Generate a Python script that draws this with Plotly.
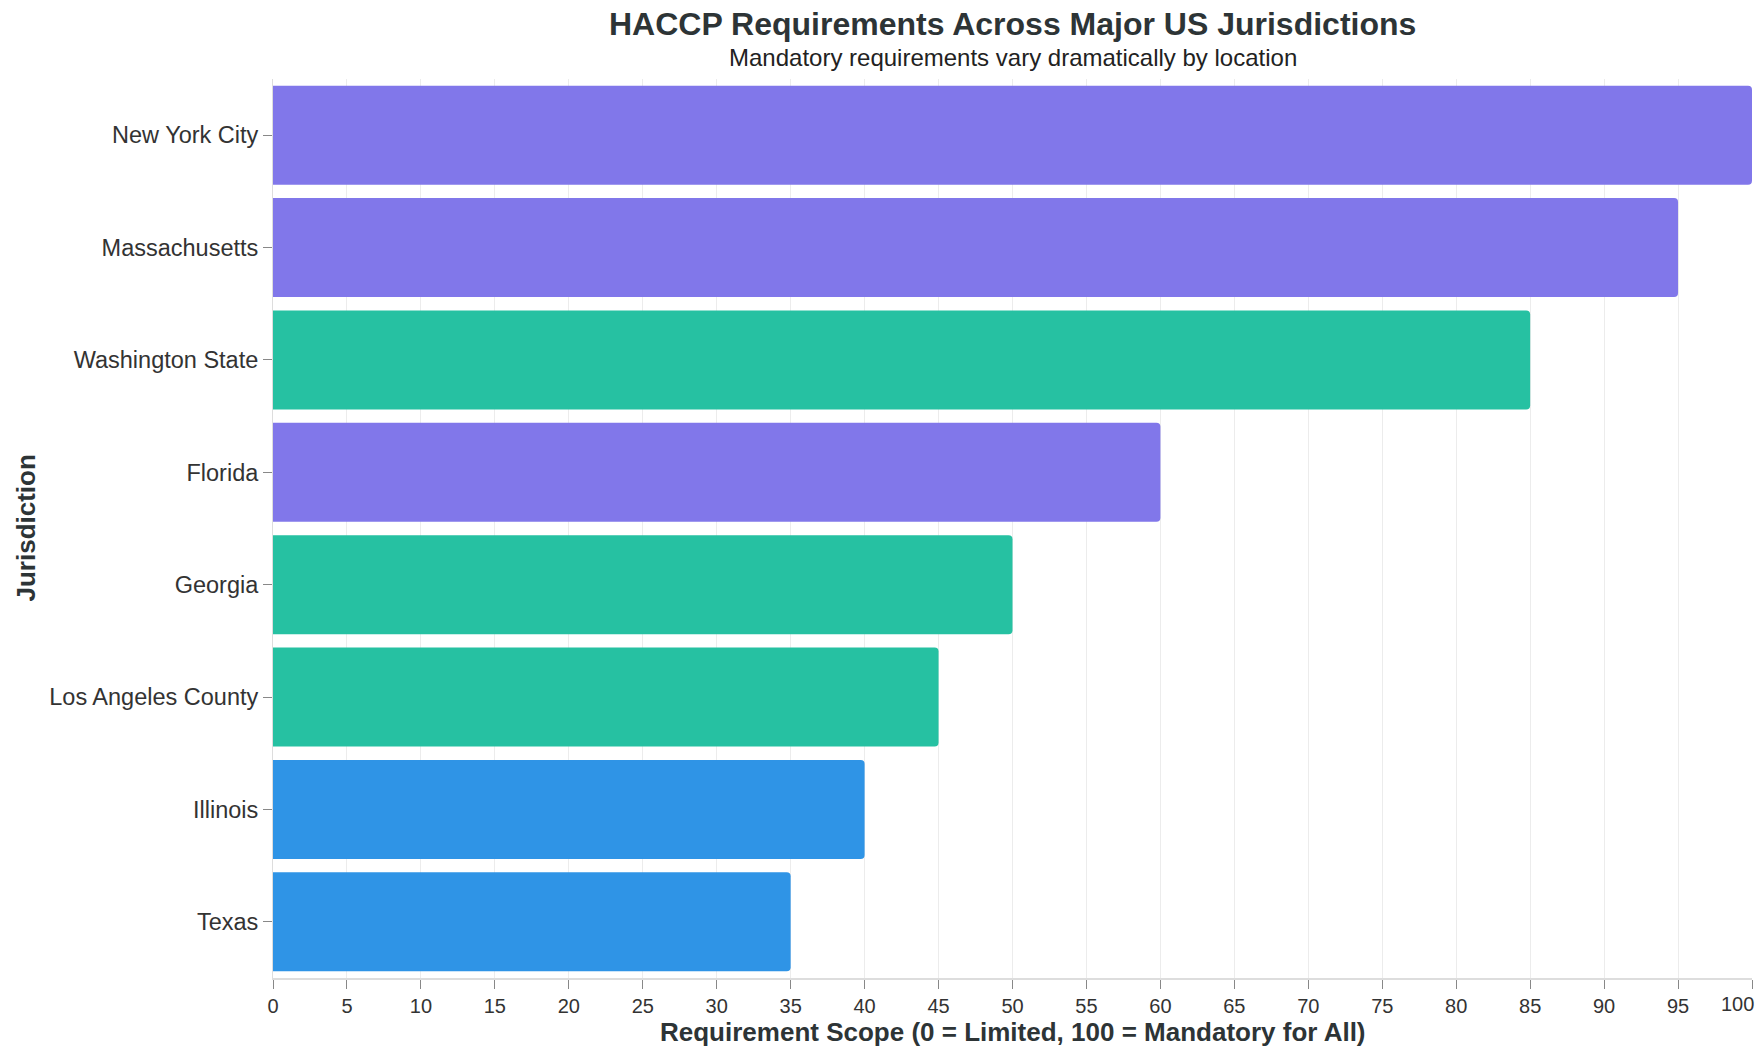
import plotly.graph_objects as go

jurisdictions = ["New York City", "Massachusetts", "Washington State", "Florida",
                 "Georgia", "Los Angeles County", "Illinois", "Texas"]
scope_values = [100, 95, 85, 60, 50, 45, 40, 35]
groups = ["Northeast/Southeast", "Northeast/Southeast", "West/South", "Northeast/Southeast",
          "West/South", "West/South", "Central", "Central"]
x_ticks = list(range(0, 101, 5))

group_colors = {
    "Northeast/Southeast": "#8177EA",
    "West/South": "#26C1A2",
    "Central": "#2F94E6",
}

W, H = 1764, 1058
ml, mr, mt, mb = 273, 12, 79, 80
pw = W - ml - mr
ph = H - mt - mb

fig = go.Figure()
fig.add_trace(go.Bar(
    x=scope_values,
    y=jurisdictions,
    orientation="h",
    marker=dict(color=[group_colors[g] for g in groups], line=dict(width=0)),
    showlegend=False,
    hovertemplate="%{y}: %{x}<extra></extra>",
))

font_family = "Liberation Sans, Arial, Helvetica, sans-serif"

last = x_ticks[-1]
tick_text = [str(v) if v != last else "" for v in x_ticks]

fig.update_layout(
    width=W, height=H,
    margin=dict(l=ml, r=mr, t=mt, b=mb, pad=0),
    paper_bgcolor="white",
    plot_bgcolor="white",
    bargap=0.12,
    barcornerradius=4,
    font=dict(family=font_family, color="#333333"),
    xaxis=dict(
        range=[0, 100.0001],
        tickmode="array",
        tickvals=x_ticks,
        ticktext=tick_text,
        showgrid=True,
        gridcolor="#ececec",
        gridwidth=1,
        zeroline=False,
        showline=True,
        linecolor="#dddddd",
        linewidth=2,
        ticks="outside",
        ticklen=9,
        tickwidth=1,
        tickcolor="#888888",
        tickfont=dict(size=20, color="#333333"),
        fixedrange=True,
    ),
    yaxis=dict(
        categoryorder="array",
        categoryarray=list(reversed(jurisdictions)),
        showgrid=False,
        zeroline=False,
        showline=True,
        linecolor="#dddddd",
        linewidth=1,
        ticks="outside",
        ticklen=9,
        tickwidth=1,
        tickcolor="#888888",
        tickfont=dict(size=23.5, color="#333333"),
        fixedrange=True,
    ),
    annotations=[
        dict(text=str(last), xref="x", yref="paper", x=last, y=0,
             xanchor="right", yanchor="top", yshift=-13, xshift=4, showarrow=False,
             font=dict(size=20, color="#333333", family=font_family)),
        dict(text="<b>HACCP Requirements Across Major US Jurisdictions</b>",
             xref="paper", yref="paper", x=0.5, y=(H - mb - 24) / ph,
             xanchor="center", yanchor="middle", showarrow=False,
             font=dict(size=32, color="#2d3436", family=font_family)),
        dict(text="Mandatory requirements vary dramatically by location",
             xref="paper", yref="paper", x=0.5, y=(H - mb - 58) / ph,
             xanchor="center", yanchor="middle", showarrow=False,
             font=dict(size=24, color="#222222", family=font_family)),
        dict(text="<b>Requirement Scope (0 = Limited, 100 = Mandatory for All)</b>",
             xref="paper", yref="paper", x=0.5, y=(H - mb - 1032) / ph,
             xanchor="center", yanchor="middle", showarrow=False,
             font=dict(size=26, color="#2d3436", family=font_family)),
        dict(text="<b>Jurisdiction</b>",
             xref="paper", yref="paper", x=(25 - ml) / pw, y=0.5,
             xanchor="center", yanchor="middle", showarrow=False, textangle=-90,
             font=dict(size=26, color="#2d3436", family=font_family)),
    ],
)

fig.write_html("out.html")
